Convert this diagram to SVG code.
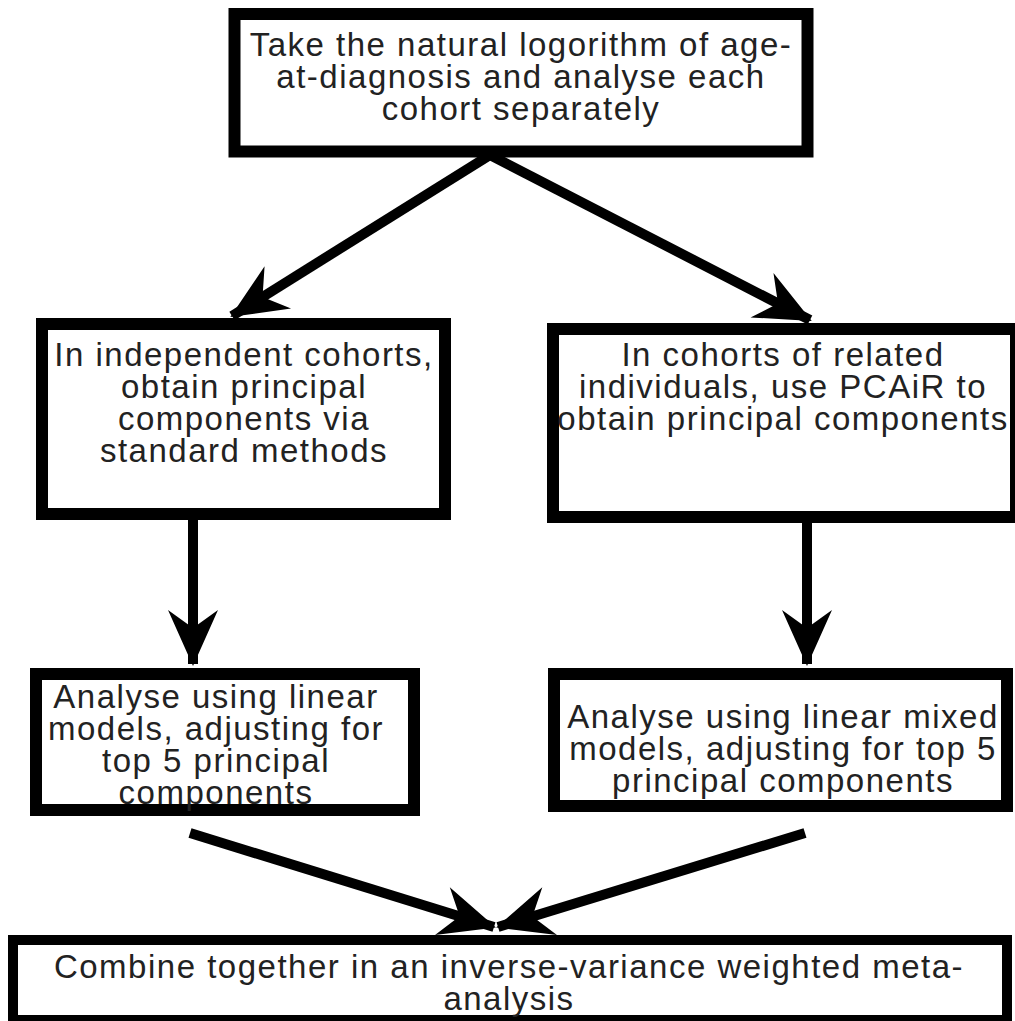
<svg xmlns="http://www.w3.org/2000/svg" width="1015" height="1021" viewBox="0 0 1015 1021">
<style>
.box{fill:#fff;stroke:#000;stroke-width:12;stroke-linejoin:miter}
.t{font-family:"Liberation Sans",Arial,sans-serif;font-size:33px;letter-spacing:1.5px;fill:#222;text-anchor:middle}
.c{stroke:#000;stroke-width:10;fill:none}
</style>
<defs>
<marker id="ah" markerUnits="userSpaceOnUse" viewBox="-60 -30 64 60" markerWidth="64" markerHeight="60" refX="0" refY="0" orient="auto" overflow="visible">
<path d="M2,0 L-54,-25 L-36,0 L-54,25 Z" fill="#000"/>
</marker>
</defs>
<g id="connectors">
<line class="c" x1="490" y1="155" x2="232" y2="316" marker-end="url(#ah)"/>
<line class="c" x1="490" y1="155" x2="810" y2="320" marker-end="url(#ah)"/>
<line class="c" x1="193" y1="520" x2="193" y2="664" marker-end="url(#ah)"/>
<line class="c" x1="807" y1="523" x2="807" y2="664" marker-end="url(#ah)"/>
<line class="c" x1="190" y1="833" x2="494" y2="927" marker-end="url(#ah)"/>
<line class="c" x1="805" y1="833" x2="498" y2="927" marker-end="url(#ah)"/>
</g>
<g id="n1">
<rect class="box" x="234.5" y="14" width="573" height="137.5"/>
<text class="t" x="521" y="56">Take the natural logorithm of age-</text>
<text class="t" x="521" y="88">at-diagnosis and analyse each</text>
<text class="t" x="521" y="120">cohort separately</text>
</g>
<g id="n2">
<rect class="box" x="42" y="324" width="403" height="190"/>
<text class="t" x="244" y="366">In independent cohorts,</text>
<text class="t" x="244" y="398">obtain principal</text>
<text class="t" x="244" y="430">components via</text>
<text class="t" x="244" y="462">standard methods</text>
</g>
<g id="n3">
<rect class="box" x="553" y="329" width="463" height="188"/>
<text class="t" x="783" y="366">In cohorts of related</text>
<text class="t" x="783" y="398">individuals, use PCAiR to</text>
<text class="t" x="783" y="430">obtain principal components</text>
</g>
<g id="n4">
<rect class="box" x="36" y="674" width="378" height="136"/>
<text class="t" x="216" y="708">Analyse using linear</text>
<text class="t" x="216" y="740">models, adjusting for</text>
<text class="t" x="216" y="772">top 5 principal</text>
<text class="t" x="216" y="804">components</text>
</g>
<g id="n5">
<rect class="box" x="554" y="674" width="453" height="132"/>
<text class="t" x="783" y="728">Analyse using linear mixed</text>
<text class="t" x="783" y="760">models, adjusting for top 5</text>
<text class="t" x="783" y="792">principal components</text>
</g>
<g id="n6">
<rect class="box" x="13" y="940" width="994" height="80" style="stroke-width:10"/>
<text class="t" x="509" y="978">Combine together in an inverse-variance weighted meta-</text>
<text class="t" x="509" y="1010">analysis</text>
</g>
</svg>
